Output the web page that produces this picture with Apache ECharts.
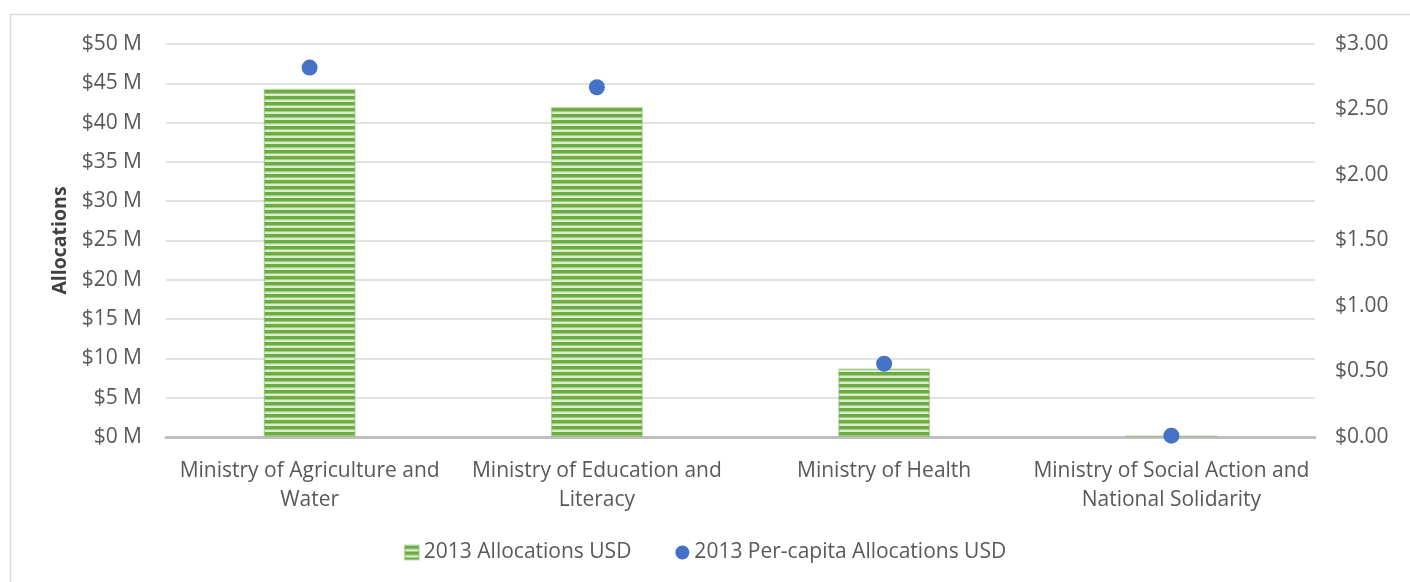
<!DOCTYPE html>
<html><head><meta charset="utf-8">
<script src="https://cdn.jsdelivr.net/npm/echarts@6/dist/echarts.min.js"></script>
<style>html,body{margin:0;padding:0;background:#fff}#c{width:1410px;height:582px}</style>
</head><body><div id="c"></div>
<script>
const categories = ['Ministry of Agriculture and\nWater','Ministry of Education and\nLiteracy','Ministry of Health','Ministry of Social Action and\nNational Solidarity'];
const allocations = [44.3, 42.0, 8.7, 0.2];          // $ M
const perCapita = [2.82, 2.67, 0.56, 0.01];         // $
const leftTicks = [0,5,10,15,20,25,30,35,40,45,50];
const rightTicks = [0,0.5,1,1.5,2,2.5,3];

const pc = document.createElement('canvas');
pc.width = 4; pc.height = 6;
const g = pc.getContext('2d');
g.fillStyle = '#dcebd0'; g.fillRect(0,0,4,6);
g.fillStyle = '#6cad42'; g.fillRect(0,0,4,3.5);
const stripe = {image: pc, repeat: 'repeat'};

const font = 'Open Sans';
const fs = 21;
const chart = echarts.init(document.getElementById('c'));
chart.setOption({
  animation:false,
  textStyle:{fontFamily:font},
  graphic:[{type:'rect',shape:{x:10.5,y:14.5,width:1500,height:700},style:{fill:'none',stroke:'#d9d9d9',lineWidth:1.5},silent:true}],
  grid:{left:166,right:95,top:44,bottom:145},
  legend:{bottom:14,left:'center',itemGap:44,itemWidth:14,itemHeight:14,
    textStyle:{fontSize:21,color:'#595959',fontFamily:font},
    data:[{name:'2013 Allocations USD',icon:'rect'},{name:'2013 Per-capita Allocations USD',icon:'circle'}]},
  xAxis:{type:'category',data:categories,
    axisLine:{lineStyle:{color:'#bfbfbf',width:3}},axisTick:{show:false},
    axisLabel:{color:'#595959',fontSize:fs,margin:20,lineHeight:29,interval:0}},
  yAxis:[{type:'value',min:0,max:50,interval:5,name:'Allocations',nameLocation:'middle',nameGap:96,
      nameTextStyle:{fontSize:19.5,fontWeight:'bold',color:'#404040'},
      axisLine:{show:false},axisTick:{show:false},
      axisLabel:{color:'#595959',fontSize:fs,margin:24,formatter:v=>'$'+v+' M'},
      splitLine:{lineStyle:{color:'#d9d9d9',width:1.5}}},
    {type:'value',min:0,max:3,interval:0.5,position:'right',
      axisLine:{show:false},axisTick:{show:false},splitLine:{show:false},
      axisLabel:{color:'#595959',fontSize:fs,margin:20,formatter:v=>'$'+v.toFixed(2)}}],
  series:[
    {name:'2013 Allocations USD',type:'bar',data:allocations,barWidth:'32%',
      itemStyle:{color:stripe,borderColor:'rgba(112,173,71,0.4)',borderWidth:1.5}},
    {name:'2013 Per-capita Allocations USD',type:'scatter',yAxisIndex:1,data:perCapita,
      symbolSize:16,itemStyle:{color:'#4472c4',opacity:1},z:5}
  ]
});
</script></body></html>
